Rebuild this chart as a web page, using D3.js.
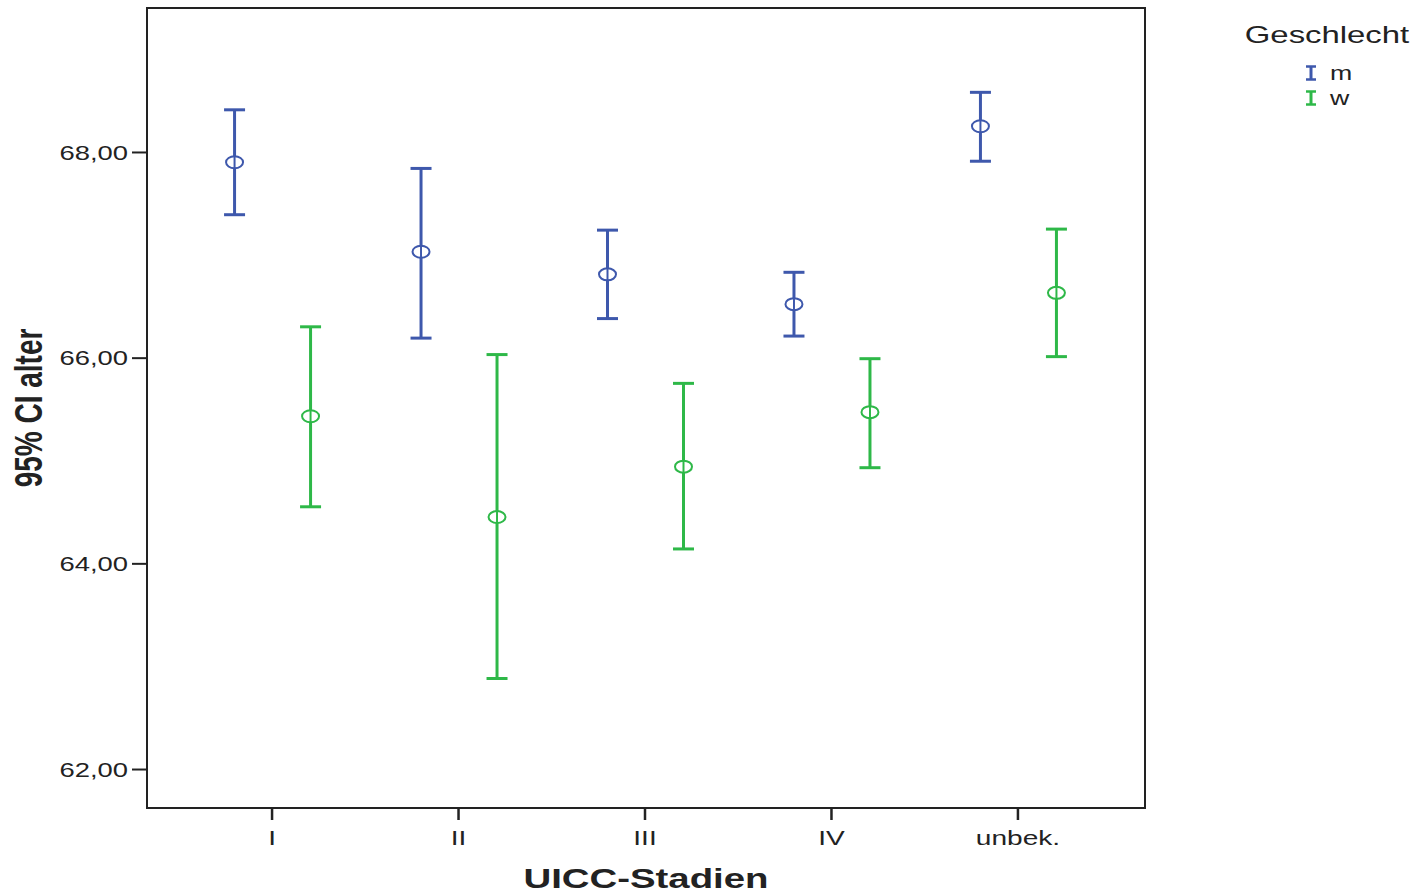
<!DOCTYPE html>
<html>
<head>
<meta charset="utf-8">
<script src="https://cdn.jsdelivr.net/npm/d3@7"></script>
<style>
  html, body { margin: 0; padding: 0; background: #fff; }
  svg { display: block; }
  text { font-family: "Liberation Sans", Arial, sans-serif; fill: #222; }
</style>
</head>
<body>
<svg id="chart" width="1416" height="894"></svg>
<script>
const categories = ["I", "II", "III", "IV", "unbek."];
const groups = ["m", "w"];
const mMean  = [67.90, 67.03, 66.81, 66.52, 68.25];
const mLower = [67.39, 66.19, 66.38, 66.21, 67.91];
const mUpper = [68.41, 67.84, 67.24, 66.83, 68.58];
const wMean  = [65.43, 64.45, 64.94, 65.47, 66.63];
const wLower = [64.55, 62.88, 64.14, 64.93, 66.01];
const wUpper = [66.30, 66.03, 65.75, 65.99, 67.25];
const yTicks = [62, 64, 66, 68];
const colors = ["#3e58ac", "#2eb848"];

(function () {
const SX = 1.37; // horizontal text stretch of the original
const svg = d3.select("#chart");
const pLeft = 147, pRight = 1145, pTop = 8, pBottom = 808;

const x = d3.scalePoint().domain(categories).range([pLeft - 1.5, pRight - 1.5]).padding(0.676);
const y = d3.scaleLinear().domain([61.621, 69.400]).range([pBottom, pTop]);
const offsets = [-37, 39];

// frame
svg.append("rect").attr("x", pLeft).attr("y", pTop)
  .attr("width", pRight - pLeft).attr("height", pBottom - pTop)
  .attr("fill", "none").attr("stroke", "#222").attr("stroke-width", 2);

// y axis
const yAxis = svg.append("g").attr("transform", `translate(${pLeft},0)`)
  .call(d3.axisLeft(y).tickValues(yTicks).tickSize(15).tickPadding(4)
    .tickFormat(d => d3.format(".2f")(d).replace(".", ",")));
yAxis.select(".domain").remove();
yAxis.selectAll(".tick line").attr("stroke", "#222").attr("stroke-width", 2);
yAxis.selectAll(".tick text")
  .attr("font-size", 20).attr("font-family", "Liberation Sans, Arial, sans-serif")
  .attr("fill", "#222")
  .attr("x", -19 / SX).attr("dy", "0.36em")
  .attr("transform", `scale(${SX},1)`);

// x axis
const xAxis = svg.append("g").attr("transform", `translate(0,${pBottom})`)
  .call(d3.axisBottom(x).tickSize(12).tickPadding(10));
xAxis.select(".domain").remove();
xAxis.selectAll(".tick line").attr("stroke", "#222").attr("stroke-width", 2.5);
xAxis.selectAll(".tick text")
  .attr("font-size", 20.5).attr("font-family", "Liberation Sans, Arial, sans-serif")
  .attr("fill", "#222")
  .attr("transform", `scale(${SX},1)`);

// axis titles
svg.append("text")
  .attr("transform", `translate(${(pLeft + pRight) / 2},888) scale(${SX},1)`)
  .attr("text-anchor", "middle").attr("font-weight", "bold").attr("font-size", 28)
  .text("UICC-Stadien");
svg.append("text")
  .attr("transform", `translate(42,${(pTop + pBottom) / 2}) scale(${SX},1) rotate(-90)`)
  .attr("text-anchor", "middle").attr("font-weight", "bold").attr("font-size", 28)
  .text("95% CI alter");

// series
const series = [
  { name: groups[0], mean: mMean, lo: mLower, hi: mUpper },
  { name: groups[1], mean: wMean, lo: wLower, hi: wUpper }
];
const capHalf = 10.5;
series.forEach((s, gi) => {
  const g = svg.append("g").attr("stroke", colors[gi]).attr("fill", "none");
  categories.forEach((c, i) => {
    const cx = x(c) + offsets[gi];
    g.append("line").attr("x1", cx).attr("x2", cx)
      .attr("y1", y(s.hi[i])).attr("y2", y(s.lo[i])).attr("stroke-width", 3);
    g.append("line").attr("x1", cx - capHalf).attr("x2", cx + capHalf)
      .attr("y1", y(s.hi[i])).attr("y2", y(s.hi[i])).attr("stroke-width", 3);
    g.append("line").attr("x1", cx - capHalf).attr("x2", cx + capHalf)
      .attr("y1", y(s.lo[i])).attr("y2", y(s.lo[i])).attr("stroke-width", 3);
    g.append("ellipse").attr("cx", cx).attr("cy", y(s.mean[i]))
      .attr("rx", 8.5).attr("ry", 6).attr("fill", "#fff").attr("stroke-width", 2);
    g.append("line").attr("x1", cx).attr("x2", cx)
      .attr("y1", y(s.mean[i]) - 6).attr("y2", y(s.mean[i]) + 6).attr("stroke-width", 2);
  });
});

// legend
const leg = svg.append("g");
leg.append("text")
  .attr("transform", `translate(1327,43) scale(${SX},1)`)
  .attr("text-anchor", "middle").attr("font-size", 24)
  .text("Geschlecht");
groups.forEach((gname, gi) => {
  const cy = 73 + gi * 25;
  const lx = 1311;
  const gg = leg.append("g").attr("stroke", colors[gi]);
  gg.append("line").attr("x1", lx).attr("x2", lx).attr("y1", cy - 7).attr("y2", cy + 7).attr("stroke-width", 3);
  gg.append("line").attr("x1", lx - 5).attr("x2", lx + 5).attr("y1", cy - 6.5).attr("y2", cy - 6.5).attr("stroke-width", 2.5);
  gg.append("line").attr("x1", lx - 5).attr("x2", lx + 5).attr("y1", cy + 6.5).attr("y2", cy + 6.5).attr("stroke-width", 2.5);
  leg.append("text")
    .attr("transform", `translate(1330,${cy + 7}) scale(${SX},1)`)
    .attr("font-size", 19.5).text(gname);
});
})();
</script>
</body>
</html>
